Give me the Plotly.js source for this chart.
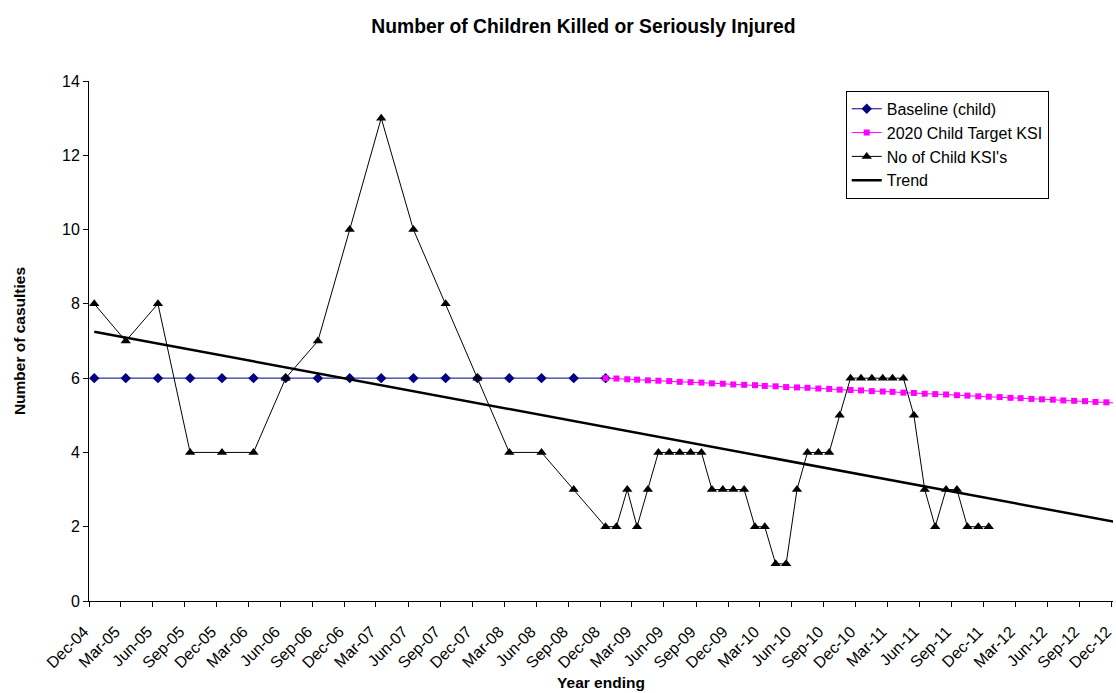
<!DOCTYPE html>
<html>
<head>
<meta charset="utf-8">
<script src="https://cdn.plot.ly/plotly-3.0.1.min.js"></script>
<style>html,body{margin:0;padding:0;background:#fff;}#chart{width:1116px;height:693px;}</style>
</head>
<body>
<div id="chart"></div>
<script>
// ---- data ----
// Baseline (child): quarterly, Dec-04 .. Dec-08
var baselineStart = '2004-12', baselineEnd = '2008-12';
var baselineValues = [6,6,6,6,6,6,6,6,6,6,6,6,6,6,6,6,6];

// 2020 Child Target KSI: monthly, Dec-08 .. Dec-12
var targetStart = '2008-12', targetEnd = '2012-12';
var targetValues = [6.00,5.99,5.97,5.96,5.94,5.93,5.92,5.90,5.89,5.88,5.86,5.85,5.83,
                    5.82,5.81,5.79,5.78,5.76,5.75,5.74,5.72,5.71,5.69,5.68,5.67,
                    5.65,5.64,5.63,5.61,5.60,5.58,5.57,5.56,5.54,5.53,5.51,5.50,
                    5.49,5.47,5.46,5.44,5.43,5.42,5.40,5.39,5.38,5.36,5.35,5.33];

// No of Child KSI's: quarterly Dec-04 .. Dec-08, then monthly Jan-09 .. Dec-11
var ksiQuarterlyValues = [8,7,8,4,4,4,6,7,10,13,10,8,6,4,4,3,2];
var ksiMonthlyStart = '2009-01', ksiMonthlyEnd = '2011-12';
var ksiMonthlyValues = [2,3,2,3,4,4,4,4,4,3,3,3,
                        3,2,2,1,1,3,4,4,4,5,6,6,
                        6,6,6,6,5,3,2,3,3,2,2,2];

// Trend line (linear), start and end
var trendDates = ['2004-12', '2012-12'];
var trendValues = [7.25, 2.12];

// x-axis ticks: "Year ending" quarters Dec-04 .. Dec-12
var tickStart = '2004-12', tickEnd = '2012-12';

var seriesNames = ['Baseline (child)', '2020 Child Target KSI', "No of Child KSI's", 'Trend'];

// ---- helpers: month sequences ----
function monthSeq(start, end, step, day) {
  var s = start.split('-').map(Number), e = end.split('-').map(Number);
  var y = s[0], m = s[1], out = [];
  while (y < e[0] || (y === e[0] && m <= e[1])) {
    out.push(y + '-' + (m < 10 ? '0' + m : m) + '-' + day);
    m += step; while (m > 12) { m -= 12; y++; }
  }
  return out;
}
function mid(d) { return d + '-16'; }

var baselineDates = monthSeq(baselineStart, baselineEnd, 3, '16');
var targetDates = monthSeq(targetStart, targetEnd, 1, '16');
var ksiDates = monthSeq(baselineStart, baselineEnd, 3, '16').concat(monthSeq(ksiMonthlyStart, ksiMonthlyEnd, 1, '16'));
var ksiValues = ksiQuarterlyValues.concat(ksiMonthlyValues);
var tickDates = monthSeq(tickStart, tickEnd, 3, '01');

var traces = [
  {x: baselineDates, y: baselineValues, name: seriesNames[0], type: 'scatter', mode: 'lines+markers',
   line: {color: '#000080', width: 1}, marker: {symbol: 'diamond', size: 8, color: '#000080'},
   legendgroup: 'a', cliponaxis: false},
  {x: targetDates, y: targetValues, name: seriesNames[1], type: 'scatter', mode: 'lines+markers',
   line: {color: '#FF00FF', width: 1}, marker: {symbol: 'square', size: 6, color: '#FF00FF'},
   legendgroup: 'b', cliponaxis: false},
  {x: ksiDates, y: ksiValues, name: seriesNames[2], type: 'scatter', mode: 'lines+markers',
   line: {color: '#000000', width: 1}, marker: {symbol: 'triangle-up', size: 9, color: '#000000'},
   legendgroup: 'c', cliponaxis: false},
  {x: trendDates.map(mid), y: trendValues, name: seriesNames[3], type: 'scatter', mode: 'lines',
   line: {color: '#000000', width: 2.5}, legendgroup: 'd'}
];

var FONT = 'Liberation Sans, Arial, sans-serif';
var layout = {
  width: 1116, height: 693,
  margin: {l: 89, r: 3, t: 81, b: 92},
  paper_bgcolor: '#ffffff', plot_bgcolor: '#ffffff',
  font: {family: FONT, color: '#000', size: 15},
  title: {text: '<b>Number of Children Killed or Seriously Injured</b>',
          font: {size: 19.3, family: FONT, color: '#000'},
          xref: 'container', x: 0.5228, xanchor: 'center', yref: 'container', y: 0.962, yanchor: 'middle'},
  xaxis: {
    type: 'date', range: ['2004-12-01', '2012-12-05'],
    tickmode: 'array', tickvals: tickDates, tickformat: '%b-%y', tickangle: -45,
    ticklabeloverflow: 'allow', ticklabelstandoff: 9, ticklabelshift: -5,
    ticks: 'outside', ticklen: 5, tickcolor: '#000', tickwidth: 1,
    showline: true, linecolor: '#000', linewidth: 1, showgrid: false, zeroline: false,
    tickfont: {size: 16, family: FONT, color: '#000'},
    title: {text: '<b>Year ending</b>', font: {size: 15.5}, standoff: 6}
  },
  yaxis: {
    range: [0, 14], dtick: 2, tick0: 0,
    ticks: 'outside', ticklen: 5, tickcolor: '#000', tickwidth: 1,
    showline: true, linecolor: '#000', linewidth: 1, showgrid: false, zeroline: false,
    tickfont: {size: 16, family: FONT, color: '#000'},
    title: {text: '<b>Number of casulties</b>', font: {size: 15.5}, standoff: 32}
  },
  showlegend: true,
  legend: {x: 0.739, y: 0.981, xanchor: 'left', yanchor: 'top', bgcolor: '#fff',
           bordercolor: '#000', borderwidth: 1, font: {size: 16}, tracegroupgap: 0,
           traceorder: 'normal'}
};

Plotly.newPlot('chart', traces, layout, {displayModeBar: false, staticPlot: true});
</script>
</body>
</html>
